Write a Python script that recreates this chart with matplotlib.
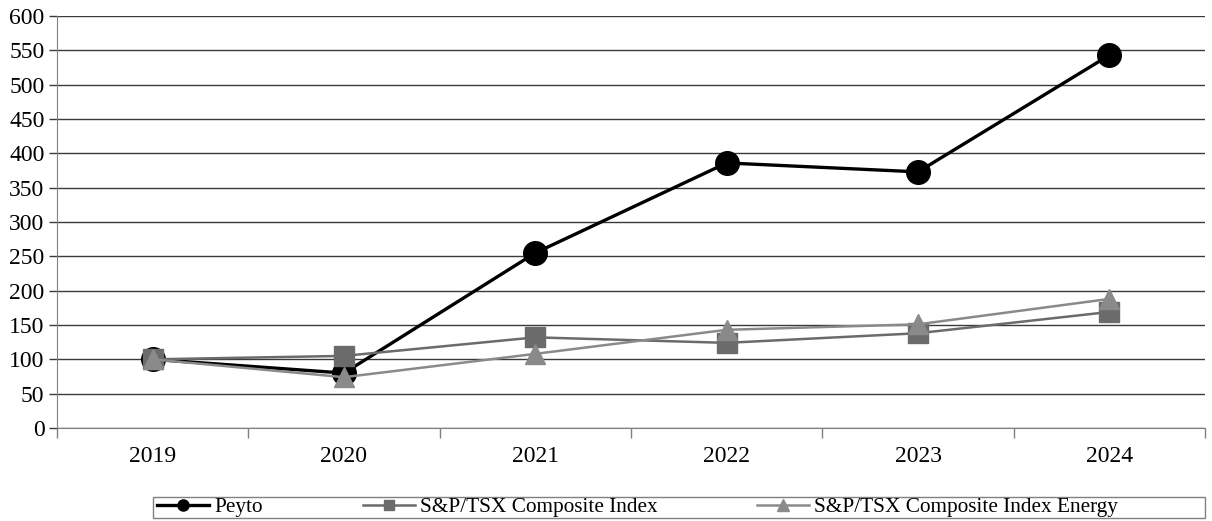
import numpy as np
import matplotlib.pyplot as plt
from matplotlib.lines import Line2D
from matplotlib.patches import Rectangle

plt.rcParams['font.family'] = ['Liberation Serif', 'DejaVu Serif']

# Data
years = ['2019', '2020', '2021', '2022', '2023', '2024']
peyto = [100, 80, 255, 386, 373, 543]
tsx = [100, 105, 132, 124, 138, 169]
tsx_energy = [100, 74, 108, 143, 151, 188]
labels = ['Peyto', 'S&P/TSX Composite Index', 'S&P/TSX Composite Index Energy']

x = np.arange(len(years))

fig = plt.figure(figsize=(12.12, 5.21), dpi=100)
ax = fig.add_axes([0.047, 0.1785, 0.9473, 0.7908])

ax.plot(x, peyto, color='black', lw=2.4, marker='o', ms=17, zorder=3)
ax.plot(x, tsx, color='#6b6b6b', lw=1.8, marker='s', ms=14, zorder=4)
ax.plot(x, tsx_energy, color='#8a8a8a', lw=1.8, marker='^', ms=15, zorder=5)

ax.set_xlim(-0.5, len(years) - 0.5)
ax.set_ylim(0, 600)
ax.set_yticks(np.arange(0, 601, 50))
ax.yaxis.grid(True, color='#3a3a3a', lw=1)
ax.set_axisbelow(True)

ax.set_xticks(x)
ax.set_xticklabels(years)
ax.set_xticks(np.arange(-0.5, len(years)), minor=True)
ax.tick_params(axis='x', which='major', length=0, pad=13, labelsize=17)
ax.tick_params(axis='x', which='minor', length=7, color='#808080', width=1)
ax.tick_params(axis='y', length=6, color='#3a3a3a', width=1, pad=3, labelsize=17)

for s in ['top', 'right']:
    ax.spines[s].set_visible(False)
ax.spines['left'].set_color('#808080')
ax.spines['bottom'].set_color('#808080')

# legend box and entries
fig.patches.append(Rectangle((0.1262, 0.0058), 0.868, 0.0403, transform=fig.transFigure,
                             fill=False, edgecolor='#808080', lw=1))

handles = [
    Line2D([], [], color='black', lw=2.4, marker='o', ms=8),
    Line2D([], [], color='#6b6b6b', lw=1.8, marker='s', ms=7),
    Line2D([], [], color='#8a8a8a', lw=1.8, marker='^', ms=8),
]
entry_x = [0.1295, 0.2995, 0.6246]
for h, lab, ex in zip(handles, labels, entry_x):
    fig.legend([h], [lab], loc='center left', bbox_to_anchor=(ex, 0.026),
               frameon=False, fontsize=15.3, borderpad=0, borderaxespad=0,
               handlelength=2.45, handletextpad=0.25)

fig.savefig('out.png', dpi=100)
